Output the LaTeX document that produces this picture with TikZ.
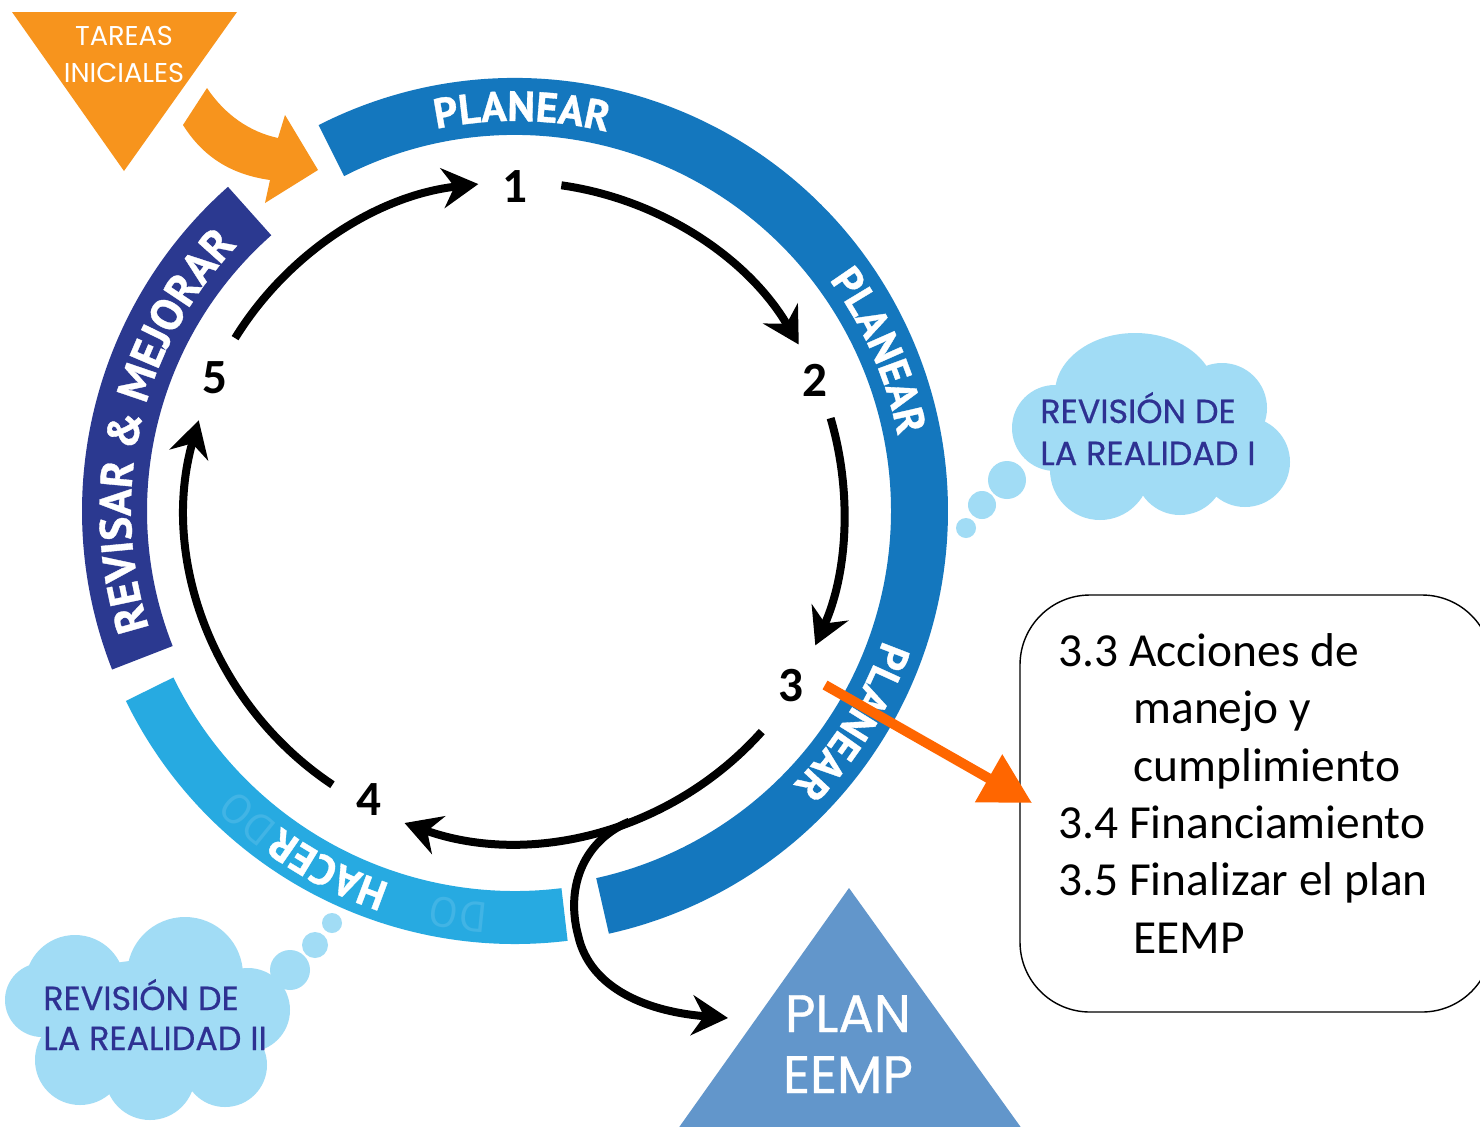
\documentclass[tikz,border=0pt]{standalone}
\usepackage{fontspec}
\setmainfont{Carlito}
\newfontfamily\ringfont{PT Sans}[BoldFeatures={FakeBold=0.8}]
\newfontfamily\geofont{Poppins}
\newfontfamily\geomed{Poppins}[FakeBold=0.6]
\usetikzlibrary{arrows.meta,decorations.text,calc}
\definecolor{planblue}{HTML}{1477BE}
\definecolor{hacerblue}{HTML}{27AAE1}
\definecolor{revblue}{HTML}{2B3990}
\definecolor{tareaorange}{HTML}{F7941D}
\definecolor{arrorange}{HTML}{FF6600}
\definecolor{cloudblue}{HTML}{A1DCF5}
\definecolor{cloudtext}{HTML}{2E3192}
\definecolor{planeemp}{HTML}{6296CB}
\newcommand\ringtxt{\ringfont\bfseries\fontsize{24}{24}\selectfont}
\newcommand\revtxt{\ringfont\bfseries\fontsize{25.5}{25.5}\selectfont}
\newcommand\ghosttxt{\ringfont\fontsize{24}{24}\selectfont}
\newcommand\numtxt{\bfseries\fontsize{28}{28}\selectfont}
\newcommand\cloudtxt{\geomed\fontsize{19}{19}\selectfont}
\begin{document}
\begin{tikzpicture}[x=0.02cm, y=-0.02cm,
  blk/.style={draw=black, line width=0.16cm, -{Stealth[length=0.72cm,width=0.8cm,inset=0.24cm]}},
  num/.style={font=\numtxt, inner sep=0pt},
  ringlabel/.style={decorate, decoration={text along path, text={|\ringtxt|#1}, text align=center, text color=white}},
  revlabel/.style={decorate, decoration={text along path, text={|\revtxt|#1}, text align=center, text color=white}},
  ghostlabel/.style={decorate, decoration={text along path, text={|\ghosttxt|#1}, text align=center, text color=hacerblue!88!white}},
  cloudlbl/.style={anchor=base west, inner sep=0pt, text=cloudtext, font=\cloudtxt},
  whitelbl/.style={anchor=base, inner sep=0pt, text=white},
]
\useasboundingbox (0,0) rectangle (1480,1126);
\clip (0,0) rectangle (1480,1126);
\fill[white] (0,0) rectangle (1480,1126);
\coordinate (C) at (515,511);

% ---- ring bands
\draw[planblue, line width=1.14cm] (C) ++(-117:404.5) arc[start angle=-117, end angle=77.5, radius=404.5];
\draw[hacerblue, line width=1.06cm] (C) ++(83:406.5) arc[start angle=83, end angle=154, radius=406.5];
\draw[revblue, line width=1.3cm] (C) ++(-201.5:400.5) arc[start angle=-201.5, end angle=-131.5, radius=400.5];

% ---- ring labels
\path[ringlabel=PLANEAR] (C) ++(-129:390) arc[start angle=-129, end angle=-49, radius=390];
\path[ringlabel=PLANEAR] (C) ++(-63.7:390) arc[start angle=-63.7, end angle=16.3, radius=390];
\path[ringlabel=PLANEAR] (C) ++(-8:390) arc[start angle=-8, end angle=72, radius=390];
\path[ringlabel=HACER] (C) ++(77.6:393) arc[start angle=77.6, end angle=157.6, radius=393];
\path[ghostlabel=DO] (C) ++(78:393) arc[start angle=78, end angle=118, radius=393];
\path[ghostlabel=DO] (C) ++(111:393) arc[start angle=111, end angle=151, radius=393];
\path[revlabel={REVISAR {\&} MEJORAR}] (C) ++(-222:384) arc[start angle=-222, end angle=-112, radius=384];

% ---- tareas iniciales
\fill[tareaorange] (12,12) -- (237,12) -- (124,171) -- cycle;
\node[whitelbl, font=\geofont\fontsize{15.5}{15.5}\selectfont] (tar1) at (124,45) {TAREAS};
\node[whitelbl, font=\geofont\fontsize{15.5}{15.5}\selectfont] (tar2) at (124,82) {INICIALES};
\fill[tareaorange] (207,88) .. controls (225,115) and (250,132) .. (278,138)
  -- (285,115) -- (318,170) -- (265,203) -- (270,180)
  .. controls (235,175) and (205,160) .. (183,125) -- cycle;

% ---- numbers
\node[num] (n1) at (515,187) {1};
\node[num] (n2) at (815,380) {2};
\node[num] (n3) at (791,686) {3};
\node[num] (n4) at (369,800) {4};
\node[num] (n5) at (215,378) {5};

% ---- black cycle arrows
\draw[blk] (C) ++(-148.3:329) arc[start angle=-148.3, end angle=-96.4, radius=329];
\draw[blk] (C) ++(-81.9:329) arc[start angle=-81.9, end angle=-30.4, radius=329];
\draw[blk] (C) ++(-16.4:329) arc[start angle=-16.4, end angle=24.1, radius=329];
\draw[blk] (C) ++(41.8:331) arc[start angle=41.8, end angle=109.5, radius=331];
\draw[blk] (C) ++(-236.3:329) arc[start angle=-236.3, end angle=-164, radius=329];
\coordinate (br) at ($(C)+(69.8:331)$);

% ---- plan eemp
\fill[planeemp] (849,888) -- (1030,1140) -- (670,1140) -- cycle;
\node[whitelbl, font=\geomed\fontsize{30}{30}\selectfont] (plan1) at (848,1032) {PLAN};
\node[whitelbl, font=\geomed\fontsize{30}{30}\selectfont] (plan2) at (848,1093) {EEMP};
\coordinate (pe) at (728,1018);
\draw[blk] (br) .. controls (585,840) and (565,885) .. (578,935) .. controls (590,990) and (650,1012) .. (pe);

% ---- clouds
\begin{scope}[cloudblue]
\fill (1135,393) ellipse [x radius=80, y radius=60];
\fill (1055,428) circle[radius=43];
\fill (1100,470) circle[radius=50];
\fill (1180,470) circle[radius=45];
\fill (1245,462) circle[radius=45];
\fill (1222,408) circle[radius=45];
\fill (1150,440) ellipse [x radius=95, y radius=55];
\fill (1007,480) circle[radius=19];
\fill (982,505) circle[radius=14];
\fill (966,528) circle[radius=10];
\fill (75,985) circle[radius=50];
\fill (185,975) circle[radius=58];
\fill (42,1000) circle[radius=37];
\fill (248,1010) circle[radius=42];
\fill (225,1065) circle[radius=42];
\fill (150,1075) circle[radius=45];
\fill (80,1060) circle[radius=45];
\fill (150,1020) ellipse [x radius=110, y radius=60];
\fill (290,970) circle[radius=20];
\fill (315,945) circle[radius=13];
\fill (332,923) circle[radius=10];
\end{scope}
\node[cloudlbl] (c1a) at (1040,423) {REVISIÓN DE};
\node[cloudlbl] (c1b) at (1040,465) {LA REALIDAD I};
\node[cloudlbl] (c2a) at (43,1010) {REVISIÓN DE};
\node[cloudlbl] (c2b) at (43,1050) {LA REALIDAD II};

% ---- box
\draw[line width=0.8pt, rounded corners=1.4cm] (1020,595) rectangle (1492,1012);
\node[anchor=base west, inner sep=0pt, align=left, font=\fontsize{27}{32.6}\selectfont] (list) at (1058,953)
 {3.3 Acciones de\\\hspace*{42.7pt}manejo y\\\hspace*{42.7pt}cumplimiento\\3.4 Financiamiento\\3.5 Finalizar el plan\\\hspace*{42.7pt}EEMP};
\coordinate (a3) at (825,685);
\coordinate (boxin) at (1032,803);
\draw[arrorange, line width=0.2cm, -{Triangle[length=1cm,width=1.05cm]}] (a3) -- (boxin);
\end{tikzpicture}
\end{document}
